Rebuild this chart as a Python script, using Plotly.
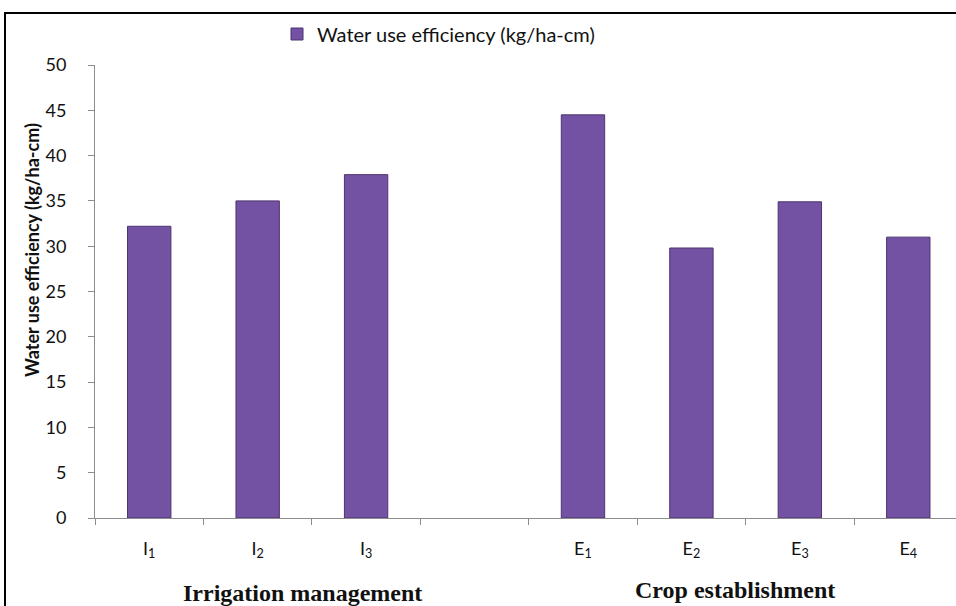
import plotly.graph_objects as go

categories = ["I<sub>1</sub>", "I<sub>2</sub>", "I<sub>3</sub>", " ",
              "E<sub>1</sub>", "E<sub>2</sub>", "E<sub>3</sub>", "E<sub>4</sub>"]
wue = [32.2, 35.0, 37.9, None, 44.5, 29.8, 34.9, 31.0]
series_name = "Water use efficiency (kg/ha-cm)"
y_ticks = [0, 5, 10, 15, 20, 25, 30, 35, 40, 45, 50]
group_labels = ["Irrigation management", "Crop establishment"]

W, H = 956, 606
L, R, T, B = 95, 0, 65, 88
PW, PH = W - L - R, H - T - B


def px_x(px):
    return (px - L) / PW


def px_y(py):
    return (H - B - py) / PH


SANS = "Lato, Open Sans, sans-serif"
SERIF = "Liberation Serif, Times New Roman, serif"

fig = go.Figure()
fig.add_trace(go.Bar(
    x=categories, y=wue, name=series_name, width=0.4,
    marker=dict(color="#7452A3", line=dict(color="#4D336F", width=1)),
    showlegend=True,
))

fig.update_layout(
    width=W, height=H,
    margin=dict(l=L, r=R, t=T, b=B, autoexpand=False),
    plot_bgcolor="white", paper_bgcolor="white",
    font=dict(family=SANS, color="#111111", size=18),
    showlegend=True,
    legend=dict(orientation="h", x=px_x(277), y=px_y(34), xanchor="left", yanchor="middle",
                font=dict(size=20, family=SANS, color="#111111"),
                itemwidth=30, bgcolor="rgba(0,0,0,0)"),
    xaxis=dict(
        type="category", categoryorder="array", categoryarray=categories,
        range=[-0.5, 7.44], automargin=False,
        showline=True, linecolor="#8c8c8c", linewidth=1,
        ticks="outside", ticklen=6, tickcolor="#8c8c8c", tickson="boundaries",
        tickfont=dict(size=18, family=SANS), ticklabelstandoff=14,
        showgrid=False, zeroline=False,
    ),
    yaxis=dict(
        range=[0, 50], tickvals=y_ticks, automargin=False,
        showline=True, linecolor="#8c8c8c", linewidth=1,
        ticks="outside", ticklen=6, tickcolor="#8c8c8c",
        tickfont=dict(size=18, family=SANS), ticklabelstandoff=18,
        showgrid=False, zeroline=False,
    ),
)

# y-axis title (offset upward as in the reference)
fig.add_annotation(text="<b>" + series_name + "</b>", xref="paper", yref="paper",
                   x=px_x(32), y=px_y(250), showarrow=False, textangle=-90,
                   xanchor="center", yanchor="middle",
                   font=dict(family=SANS, size=18, color="#111111"))

# group labels
fig.add_annotation(text="<b>" + group_labels[0] + "</b>", xref="paper", yref="paper",
                   x=px_x(302), y=px_y(593), showarrow=False,
                   xanchor="center", yanchor="middle",
                   font=dict(family=SERIF, size=24, color="#111111"))
fig.add_annotation(text="<b>" + group_labels[1] + "</b>", xref="paper", yref="paper",
                   x=px_x(735), y=px_y(590), showarrow=False,
                   xanchor="center", yanchor="middle",
                   font=dict(family=SERIF, size=24, color="#111111"))

# outer frame
fig.add_shape(type="rect", xref="paper", yref="paper",
              x0=px_x(5), x1=px_x(962), y0=px_y(625), y1=px_y(13),
              line=dict(color="#000000", width=2), fillcolor="rgba(0,0,0,0)", layer="above")

fig.write_html("out.html", config={"displayModeBar": False},
               post_script="document.body.style.margin='0px';document.body.style.overflow='hidden';")
